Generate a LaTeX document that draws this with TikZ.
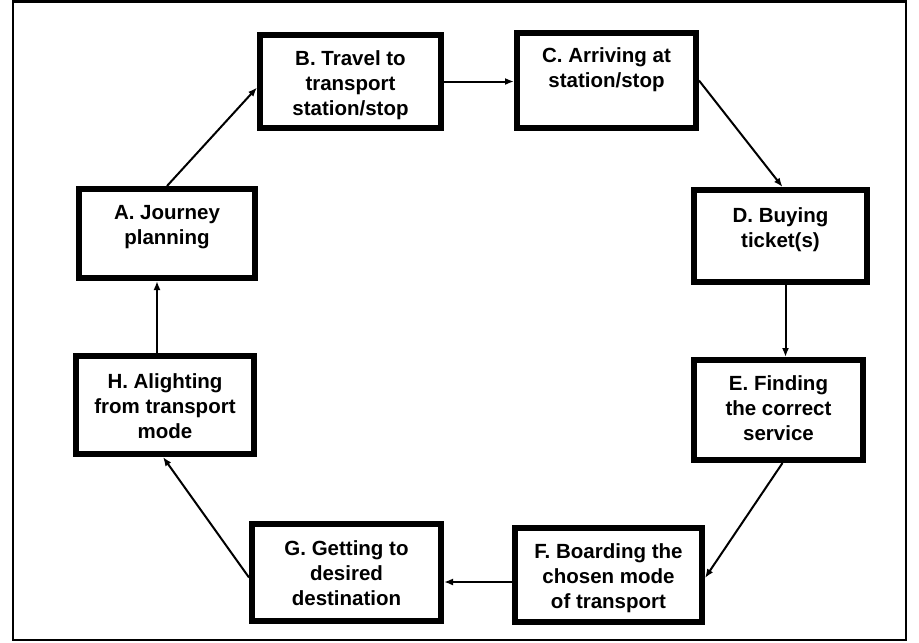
\documentclass[tikz,border=0pt]{standalone}
\usepackage{fontspec}
\setmainfont{Liberation Sans}
\usetikzlibrary{arrows.meta,calc}
\begin{document}
\begin{tikzpicture}[x=1pt,y=-1pt,
  stepbox/.style={draw, line width=6pt, inner sep=0pt, fill=white},
  steptext/.style={anchor=north, inner sep=0pt, align=center,
    font=\fontsize{20.5}{25}\selectfont\bfseries},
  flow/.style={line width=2pt, -{Latex[length=9pt,width=7pt]}},
  frameline/.style={draw, line width=2.5pt}]
\useasboundingbox (0,0) rectangle (919,643);
\draw[frameline] (13,1.5) rectangle (906,640);
% boxes
\node[stepbox, minimum width=176pt, minimum height=89pt] (A) at (167,233.5) {};
\node[stepbox, minimum width=181pt, minimum height=93pt] (B) at (350.5,81.5) {};
\node[stepbox, minimum width=179pt, minimum height=95pt] (C) at (606.5,80.5) {};
\node[stepbox, minimum width=173pt, minimum height=92pt] (D) at (780.5,236) {};
\node[stepbox, minimum width=169pt, minimum height=100pt] (E) at (778.5,410) {};
\node[stepbox, minimum width=187pt, minimum height=94pt] (F) at (608.5,575) {};
\node[stepbox, minimum width=189pt, minimum height=97pt] (G) at (346.5,572.5) {};
\node[stepbox, minimum width=178pt, minimum height=98pt] (H) at (165,405) {};
% texts
\node[steptext] (At) at (167,205) {A. Journey\\planning};
\node[steptext] (Bt) at (350.5,50) {B. Travel to\\transport\\station/stop};
\node[steptext] (Ct) at (606.5,47) {C. Arriving at\\station/stop};
\node[steptext] (Dt) at (780.5,207) {D. Buying\\ticket(s)};
\node[steptext] (Et) at (778.5,375) {E. Finding\\the correct\\service};
\node[steptext] (Ft) at (608.5,543) {F. Boarding the\\chosen mode\\of transport};
\node[steptext] (Gt) at (346.5,540) {G. Getting to\\desired\\destination};
\node[steptext] (Ht) at (165,373) {H. Alighting\\from transport\\mode};
% connectors
\draw[flow] (A.north) -- ([yshift=-6pt]B.west);
\draw[flow] (B.east) -- (B.east -| C.west);
\draw[flow] (C.east) -- ([xshift=2pt]D.north);
\draw[flow] ([xshift=5pt]D.south) -- ([xshift=5pt]D.south |- E.north);
\draw[flow] ([xshift=4pt]E.south) -- ([yshift=-3pt]F.east);
\draw[flow] ([yshift=-7pt]F.west) -- ([yshift=-7pt]F.west -| G.east);
\draw[flow] ([yshift=-5pt]G.west) -- ([xshift=-2pt]H.south);
\draw[flow] ([xshift=-8pt]H.north) -- ([xshift=-8pt]H.north |- A.south);
\end{tikzpicture}
\end{document}
